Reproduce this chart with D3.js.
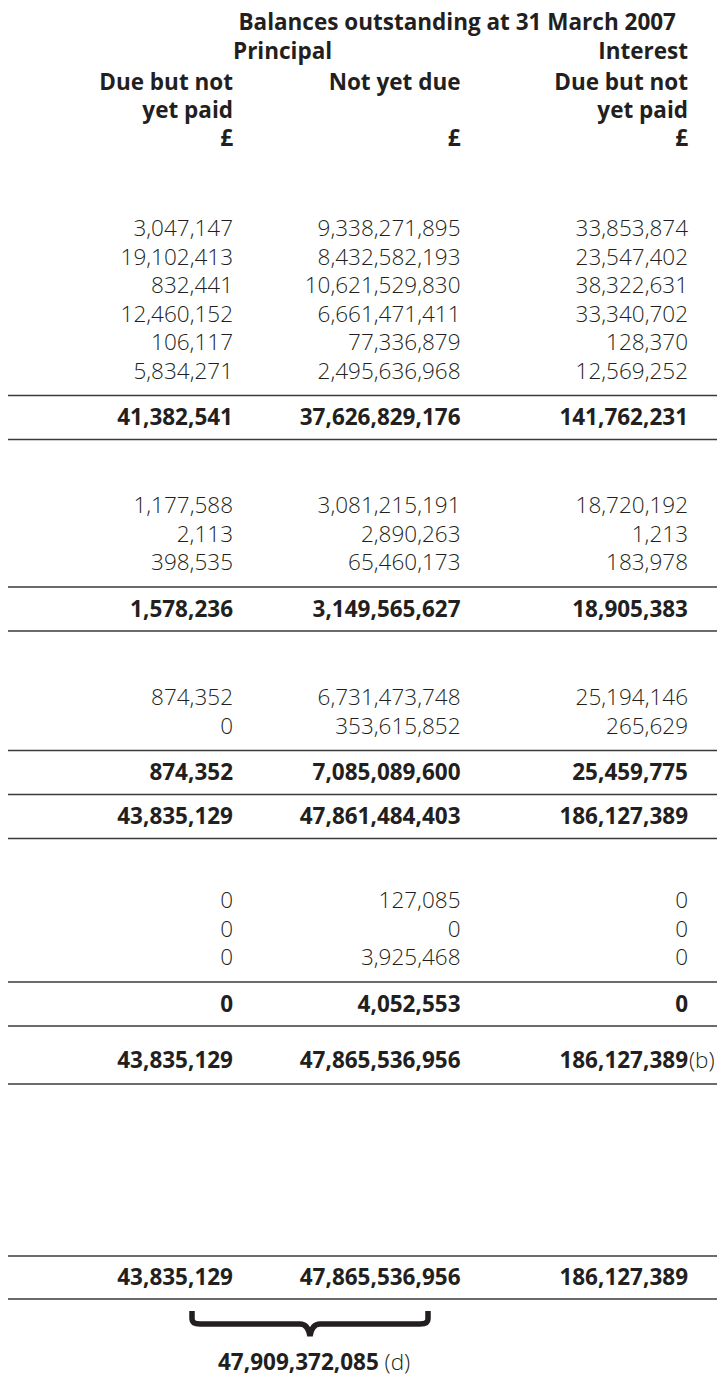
<!DOCTYPE html>
<html>
<head>
<meta charset="utf-8">
<script src="https://cdn.jsdelivr.net/npm/d3@7"></script>
<style>
  html, body { margin: 0; padding: 0; background: #fff; }
  svg { display: block; font-family: "Open Sans", "Noto Sans", sans-serif; }
</style>
</head>
<body>
<div id="chart"></div>
<script>
// column keys and header lines
const columns = ["dueP", "notYet", "dueI"];
const title = "Balances outstanding at 31 March 2007";
const groupHeads = ["Principal", "Interest"];
const colHeads = [["Due but not", "yet paid", "£"], ["Not yet due", "", "£"], ["Due but not", "yet paid", "£"]];

// block rows (due but not yet paid, not yet due, interest due)
const block1 = [
  [3047147, 9338271895, 33853874],
  [19102413, 8432582193, 23547402],
  [832441, 10621529830, 38322631],
  [12460152, 6661471411, 33340702],
  [106117, 77336879, 128370],
  [5834271, 2495636968, 12569252]
];
const total1 = [41382541, 37626829176, 141762231];

const block2 = [
  [1177588, 3081215191, 18720192],
  [2113, 2890263, 1213],
  [398535, 65460173, 183978]
];
const total2 = [1578236, 3149565627, 18905383];

const block3 = [
  [874352, 6731473748, 25194146],
  [0, 353615852, 265629]
];
const total3 = [874352, 7085089600, 25459775];
const grand1 = [43835129, 47861484403, 186127389];

const block4 = [
  [0, 127085, 0],
  [0, 0, 0],
  [0, 3925468, 0]
];
const total4 = [0, 4052553, 0];
const grand2 = [43835129, 47865536956, 186127389];
const grand2Notes = ["", "", "(b)"];

const finalTotals = [43835129, 47865536956, 186127389];
const combined = 47909372085;
const combinedNote = "(d)";

// ---- layout ----
const width = 717;
const height = 1381;
const fs = 22.5;
const ink = "#231f20";
const fmt = d3.format(",");

const svg = d3.select("#chart").append("svg")
  .attr("width", width)
  .attr("height", height)
  .attr("viewBox", `0 0 ${width} ${height}`);

const x = d3.scalePoint().domain(columns).range([233, 688]);

const rowStep = 28.5;
const lineAfterRows = 25;
const lineToTotal = 21.5;
const totalToLine = 22.5;

const items = []; // {type:"row"/"total"/"line", y, values}
function addBlock(rows, total, firstY) {
  rows.forEach((r, i) => items.push({ type: "row", y: firstY + i * rowStep, values: r }));
  let y = firstY + (rows.length - 1) * rowStep + lineAfterRows;
  items.push({ type: "line", y });
  y += lineToTotal;
  items.push({ type: "total", y, values: total });
  y += totalToLine;
  items.push({ type: "line", y });
  return y;
}

addBlock(block1, total1, 228);
addBlock(block2, total2, 505);
let y3 = addBlock(block3, total3, 697);
items.push({ type: "total", y: y3 + lineToTotal, values: grand1 });
items.push({ type: "line", y: y3 + lineToTotal + totalToLine });
let y4 = addBlock(block4, total4, 900);
items.push({ type: "total", y: y4 + 34, values: grand2, notes: grand2Notes });
items.push({ type: "line", y: y4 + 34 + 24 });

items.push({ type: "line", y: 1256 });
items.push({ type: "total", y: 1277, values: finalTotals });
items.push({ type: "line", y: 1299 });

const base = (cy) => cy + fs * 0.36;

// header
const head = svg.append("g").attr("fill", ink).attr("font-weight", 700).attr("font-size", fs);
head.append("text").attr("x", 676).attr("y", base(22)).attr("text-anchor", "end").text(title);
head.append("text").attr("x", 233).attr("y", base(51)).text(groupHeads[0]);
head.append("text").attr("x", x("dueI")).attr("y", base(51)).attr("text-anchor", "end").text(groupHeads[1]);
const headY = [82, 110, 138];
columns.forEach((c, ci) => {
  colHeads[ci].forEach((t, li) => {
    if (!t) return;
    head.append("text")
      .attr("x", x(c))
      .attr("y", base(headY[li]))
      .attr("text-anchor", "end")
      .text(t);
  });
});

// rules
svg.append("g").selectAll("line")
  .data(items.filter(d => d.type === "line"))
  .join("line")
  .attr("x1", 8).attr("x2", width)
  .attr("y1", d => d.y).attr("y2", d => d.y)
  .attr("stroke", "#3a3a3a")
  .attr("stroke-width", 1.6);

// values
const cells = items.filter(d => d.type !== "line")
  .flatMap(d => d.values.map((v, i) => ({ v, col: columns[i], y: d.y, bold: d.type === "total", note: d.notes ? d.notes[i] : "" })));

svg.append("g").selectAll("text")
  .data(cells)
  .join("text")
  .attr("x", d => x(d.col))
  .attr("y", d => base(d.y))
  .attr("text-anchor", "end")
  .attr("font-size", fs)
  .attr("font-weight", d => d.bold ? 700 : 300)
  .attr("fill", ink)
  .text(d => fmt(d.v));

svg.append("g").selectAll("text")
  .data(cells.filter(d => d.note))
  .join("text")
  .attr("x", d => x(d.col) + 1)
  .attr("y", d => base(d.y))
  .attr("font-size", fs)
  .attr("font-weight", 300)
  .attr("fill", ink)
  .text(d => d.note);

// brace under the two principal totals
const bL = 192, bR = 428, bM = (bL + bR) / 2, bT = 1311, bB = 1336, bH = 1324;
const brace = d3.path();
brace.moveTo(bL, bT);
brace.lineTo(bL, bH - 5);
brace.quadraticCurveTo(bL, bH, bL + 8, bH);
brace.lineTo(bM - 10, bH);
brace.quadraticCurveTo(bM - 2, bH, bM, bB);
brace.quadraticCurveTo(bM + 2, bH, bM + 10, bH);
brace.lineTo(bR - 8, bH);
brace.quadraticCurveTo(bR, bH, bR, bH - 5);
brace.lineTo(bR, bT);
svg.append("path")
  .attr("d", brace.toString())
  .attr("fill", "none")
  .attr("stroke", ink)
  .attr("stroke-width", 5.5);

const fin = svg.append("text")
  .attr("x", 218)
  .attr("y", base(1362))
  .attr("font-size", fs)
  .attr("fill", ink);
fin.append("tspan").attr("font-weight", 700).text(fmt(combined));
fin.append("tspan").attr("font-weight", 300).text(" " + combinedNote);
</script>
</body>
</html>
